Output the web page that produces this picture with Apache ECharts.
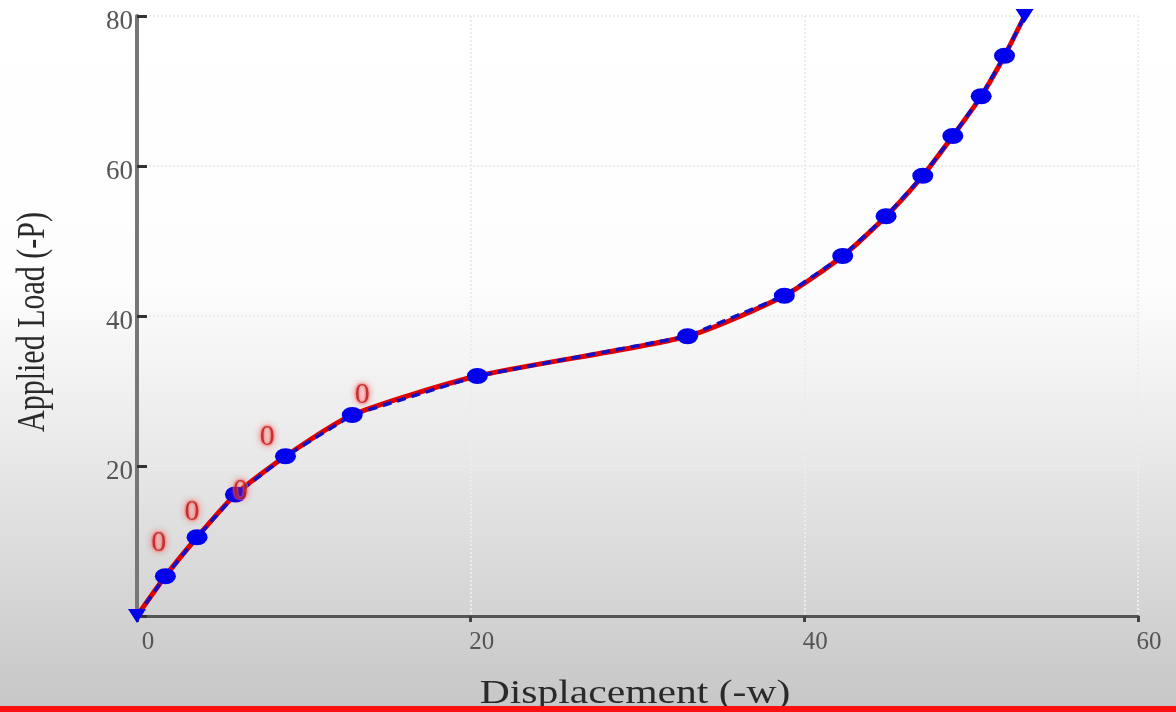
<!DOCTYPE html>
<html>
<head>
<meta charset="utf-8">
<title>Applied Load vs Displacement</title>
<script src="https://cdn.jsdelivr.net/npm/echarts@6/dist/echarts.min.js"></script>
<style>
    html, body { margin: 0; padding: 0; }
    #chart { width: 1176px; height: 712px; }
</style>
</head>
<body>
<div id="chart"></div>
<script>
// data
const dispX = [0, 1.7, 3.6, 5.9, 8.9, 12.9, 20.4, 33.0, 38.8, 42.3, 44.9, 47.1, 48.9, 50.6, 52.0, 53.2];
const loadY = [0, 5.3, 10.5, 16.2, 21.3, 26.8, 32.0, 37.3, 42.7, 48.0, 53.3, 58.7, 64.0, 69.3, 74.7, 80.0];

// the red "0" marks
const markX = [1.3, 3.3, 6.2, 7.8, 13.5];
const markY = [9.7, 13.9, 16.6, 23.9, 29.4];

const xTicks = [0, 20, 40, 60];
const yTicks = [0, 20, 40, 60, 80];

const serif = '"Liberation Serif", "DejaVu Serif", serif';

const pairs = (xs, ys) => xs.map((x, i) => [x, ys[i]]);

const chart = echarts.init(document.getElementById('chart'));

const option = {
    backgroundColor: {
        type: 'linear', x: 0, y: 0, x2: 0, y2: 1,
        colorStops: [
            { offset: 0, color: '#ffffff' },
            { offset: 0.4, color: '#fdfdfd' },
            { offset: 0.6, color: '#ececec' },
            { offset: 1, color: '#c6c6c6' }
        ]
    },
    animation: false,
    grid: { left: 137, right: 38, top: 16, bottom: 96 },
    xAxis: {
        type: 'value',
        min: xTicks[0],
        max: xTicks[xTicks.length - 1],
        interval: 20,
        axisLine: { lineStyle: { color: '#555', width: 3 } },
        axisTick: { show: true, inside: false, length: 6, lineStyle: { color: '#444', width: 3 } },
        axisLabel: {
            fontFamily: serif, fontSize: 25, color: '#555',
            margin: 14, padding: [0, 0, 0, 22]
        },
        splitLine: { show: true, lineStyle: { color: '#ececec', type: 'dotted', width: 2 } }
    },
    yAxis: {
        type: 'value',
        min: yTicks[0],
        max: yTicks[yTicks.length - 1],
        interval: 20,
        axisLine: { show: true, lineStyle: { color: '#777', width: 4 } },
        axisTick: { show: true, inside: true, length: 10, lineStyle: { color: '#333', width: 3 } },
        axisLabel: {
            fontFamily: serif, fontSize: 27, color: '#555',
            margin: 4, verticalAlign: 'top', lineHeight: 12,
            formatter: v => (v === 0 ? '' : String(v))
        },
        splitLine: { show: true, lineStyle: { color: '#ececec', type: 'dotted', width: 2 } }
    },
    series: [
        {
            name: 'fit',
            type: 'line',
            data: pairs(dispX, loadY),
            smooth: 0.22,
            showSymbol: false,
            clip: false,
            lineStyle: { color: '#e00000', width: 5 },
            z: 2
        },
        {
            name: 'points',
            type: 'line',
            data: pairs(dispX, loadY).map((p, i, arr) => {
                if (i === 0 || i === arr.length - 1) {
                    return { value: p, symbol: 'triangle', symbolSize: [18, 14], symbolRotate: 180 };
                }
                return p;
            }),
            smooth: false,
            symbol: 'circle',
            symbolSize: [21, 16],
            clip: false,
            itemStyle: { color: '#0000ee' },
            lineStyle: { color: '#1010c8', width: 3.5, type: [9, 6] },
            z: 3
        },
        {
            name: 'marks',
            type: 'scatter',
            data: pairs(markX, markY),
            symbolSize: 1,
            itemStyle: { color: 'rgba(0,0,0,0)' },
            label: {
                show: true,
                position: 'inside',
                formatter: '0',
                fontFamily: serif,
                fontSize: 30,
                color: '#b81414',
                textBorderColor: 'rgba(255,120,120,0.5)',
                textBorderWidth: 3,
                textShadowColor: 'rgba(255,60,60,0.6)',
                textShadowBlur: 6
            },
            z: 4
        }
    ],
    graphic: [
        {
            type: 'text',
            x: 34, y: 322,
            rotation: Math.PI / 2,
            scaleY: 1.3,
            style: {
                text: 'Applied Load (-P)',
                fontFamily: serif,
                fontSize: 30,
                fill: '#2a2a2a',
                align: 'center',
                verticalAlign: 'middle'
            }
        },
        {
            type: 'text',
            x: 635, y: 694,
            scaleX: 1.26,
            style: {
                text: 'Displacement (-w)',
                fontFamily: serif,
                fontSize: 33,
                fill: '#2a2a2a',
                align: 'center',
                verticalAlign: 'middle'
            },
            z: 10
        },
        {
            type: 'rect',
            shape: { x: 0, y: 706, width: 1176, height: 6 },
            style: { fill: '#ff1010' },
            z: 20
        }
    ]
};

chart.setOption(option);
</script>
</body>
</html>
